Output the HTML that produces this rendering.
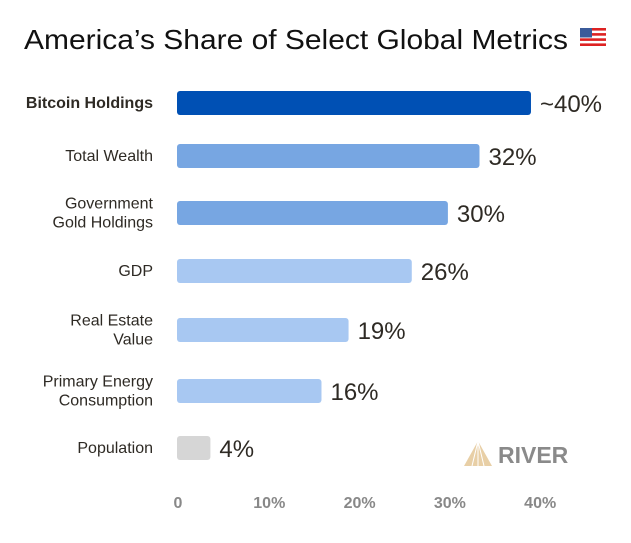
<!DOCTYPE html>
<html><head><meta charset="utf-8"><style>
body{margin:0;background:#fff;width:631px;height:538px;overflow:hidden}
svg text{font-family:"Liberation Sans",sans-serif}
</style></head><body>
<svg id="chart" width="631" height="538" viewBox="0 0 631 538">
<text x="24" y="49" font-size="28" textLength="544" lengthAdjust="spacingAndGlyphs" fill="#111">America’s Share of Select Global Metrics</text>
<g transform="translate(580,28)">
<rect width="26" height="18" rx="3" fill="#fff"/>
<rect y="0" width="26" height="2.6" fill="#d22"/><rect y="5.1" width="26" height="2.6" fill="#d22"/><rect y="10.3" width="26" height="2.6" fill="#d22"/><rect y="15.4" width="26" height="2.6" fill="#d22"/>
<rect width="12" height="9.5" fill="#3b5b9a"/>
</g>
<g id="bars"></g>
<g id="xaxis"></g>
<g transform="translate(464,441)">
<path d="M14 0 L0 25 L28 25 Z" fill="#e8cfa6"/>
<path d="M14 0 L8 25 M14 0 L14 25 M14 0 L20 25" stroke="#fff" stroke-width="1"/>
<text x="34" y="22" font-size="23" font-weight="bold" fill="#8a8a8a">RIVER</text>
</g>
</svg>
<script>
const categories=[["Bitcoin Holdings"],["Total Wealth"],["Government","Gold Holdings"],["GDP"],["Real Estate","Value"],["Primary Energy","Consumption"],["Population"]];
const values=[39.2,33.5,30,26,19,16,3.7];
const valueLabels=["~40%","32%","30%","26%","19%","16%","4%"];
const colors=["#0050b4","#77a6e2","#77a6e2","#a8c8f2","#a8c8f2","#a8c8f2","#d6d6d6"];
const ticks=[0,10,20,30,40];
const tickLabels=["0","10%","20%","30%","40%"];
const NS="http://www.w3.org/2000/svg";
const x=v=>177+v*9.03;
const rowLayout=[103,156,213,271,330,391,448];
const bars=document.getElementById('bars');
function mk(t,a,p){const e=document.createElementNS(NS,t);for(const k in a)e.setAttribute(k,a[k]);p.appendChild(e);return e;}
categories.forEach((c,i)=>{
 const cy=rowLayout[i];
 const r=mk('rect',{x:x(0),y:cy-12,width:x(values[i])-x(0),height:24,rx:3,fill:colors[i]},bars);
 
 
 const vt=mk('text',{x:x(values[i])+9,y:cy+9,'font-size':24,fill:'#2e2a24'},bars);
 vt.textContent=valueLabels[i];
 
 
 const lt=mk('text',{x:153,'text-anchor':'end','font-size':16,fill:'#2e2a24','font-weight':i===0?'bold':'normal'},bars);
 
 
 const n=c.length;
 c.forEach((s,j)=>{const ts=mk('tspan',{x:153,y:cy+5+(j-(n-1)/2)*19},lt);ts.textContent=s;});
});
const xa=document.getElementById('xaxis');
ticks.forEach((t,i)=>{
 const e=mk('text',{x:x(t)+(i==0?1:2),y:508,'text-anchor':'middle','font-size':16,'font-weight':'bold',fill:'#888'},xa);
 e.textContent=tickLabels[i];
 
 
});
</script>
</body></html>
